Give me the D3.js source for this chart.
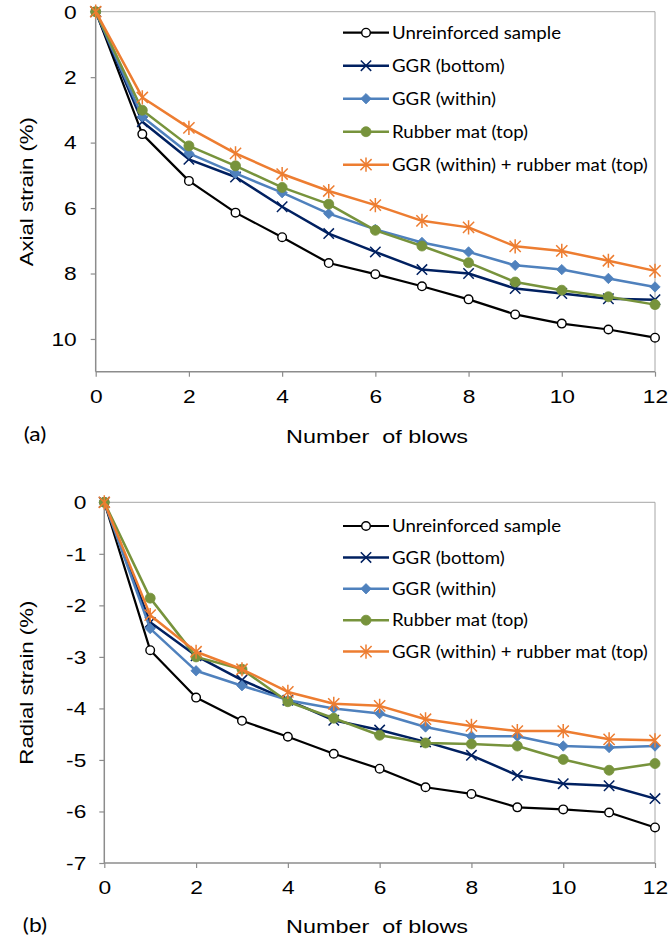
<!DOCTYPE html>
<html>
<head>
<meta charset="utf-8">
<script src="https://cdn.jsdelivr.net/npm/d3@7"></script>
<style>
  html, body { margin: 0; padding: 0; background: #fff; }
  svg { display: block; }
</style>
</head>
<body>
<svg id="chart" width="668" height="940"></svg>
<script>
// Number of blows (shared x values)
const blows = [0, 1, 2, 3, 4, 5, 6, 7, 8, 9, 10, 11, 12];
const blowTicks = [0, 2, 4, 6, 8, 10, 12];

const seriesNames = [
  "Unreinforced sample",
  "GGR (bottom)",
  "GGR (within)",
  "Rubber mat (top)",
  "GGR (within) + rubber mat (top)"
];

// (a) axial strain, %
const axialUnreinforced = [0, 3.74, 5.17, 6.14, 6.89, 7.68, 8.02, 8.39, 8.79, 9.25, 9.53, 9.71, 9.96];
const axialGGRBottom    = [0, 3.36, 4.51, 5.05, 5.96, 6.78, 7.34, 7.88, 8.00, 8.46, 8.61, 8.77, 8.80];
const axialGGRWithin    = [0, 3.21, 4.33, 4.94, 5.53, 6.17, 6.65, 7.05, 7.34, 7.75, 7.88, 8.15, 8.41];
const axialRubberTop    = [0, 3.01, 4.10, 4.71, 5.37, 5.88, 6.68, 7.16, 7.67, 8.26, 8.51, 8.71, 8.95];
const axialCombined     = [0, 2.62, 3.55, 4.33, 4.96, 5.48, 5.91, 6.39, 6.59, 7.17, 7.31, 7.61, 7.92];
const axialTicks = [0, 2, 4, 6, 8, 10];

// (b) radial strain, %
const radialUnreinforced = [0, -2.87, -3.79, -4.24, -4.55, -4.88, -5.17, -5.53, -5.66, -5.92, -5.96, -6.02, -6.31];
const radialGGRBottom    = [0, -2.33, -2.98, -3.45, -3.84, -4.23, -4.42, -4.65, -4.91, -5.30, -5.46, -5.50, -5.75];
const radialGGRWithin    = [0, -2.45, -3.27, -3.56, -3.84, -4.00, -4.10, -4.36, -4.54, -4.54, -4.73, -4.76, -4.73];
const radialRubberTop    = [0, -1.86, -3.00, -3.24, -3.87, -4.19, -4.52, -4.67, -4.69, -4.73, -4.99, -5.20, -5.07];
const radialCombined     = [0, -2.19, -2.90, -3.24, -3.68, -3.91, -3.95, -4.21, -4.34, -4.44, -4.44, -4.60, -4.62];
const radialTicks = [0, -1, -2, -3, -4, -5, -6, -7];

// Series styling
const styles = [
  { color: "#000000", marker: "openCircle", width: 2.2 },
  { color: "#002060", marker: "cross",      width: 2.5 },
  { color: "#4f81bd", marker: "diamond",    width: 2.5 },
  { color: "#77933c", marker: "dot",        width: 2.5 },
  { color: "#ed7d31", marker: "star",       width: 2.5 }
];

const svg = d3.select("#chart");
svg.append("rect").attr("width", 668).attr("height", 940).attr("fill", "#fff");

const AXIS_COLOR = "#8c8c8c";
const BORDER_COLOR = "#a6a6a6";
const TICK_FONT = "'Liberation Sans', Arial, sans-serif";
const LEGEND_FONT = "Lato, 'Open Sans', sans-serif";
const TICK_SIZE = 17.5;   // px
const TICK_STRETCH = 1.3; // horizontal widening of the axis lettering

function drawMarker(g, type, color, x, y) {
  if (type === "openCircle") {
    g.append("circle").attr("cx", x).attr("cy", y).attr("r", 4.3)
      .attr("fill", "#fff").attr("stroke", color).attr("stroke-width", 1.4);
  } else if (type === "dot") {
    g.append("circle").attr("cx", x).attr("cy", y).attr("r", 5)
      .attr("fill", color).attr("stroke", color).attr("stroke-width", 0.8);
  } else if (type === "diamond") {
    const s = 5.2;
    g.append("path")
      .attr("d", `M${x},${y - s}L${x + s},${y}L${x},${y + s}L${x - s},${y}Z`)
      .attr("fill", color).attr("stroke", color).attr("stroke-width", 0.8);
  } else if (type === "cross") {
    const s = 5.2;
    g.append("path")
      .attr("d", `M${x - s},${y - s}L${x + s},${y + s}M${x - s},${y + s}L${x + s},${y - s}`)
      .attr("fill", "none").attr("stroke", color).attr("stroke-width", 1.5);
  } else if (type === "star") {
    const s = 5.6;
    g.append("path")
      .attr("d", `M${x - s},${y - s}L${x + s},${y + s}M${x - s},${y + s}L${x + s},${y - s}M${x},${y - s - 1.5}L${x},${y + s + 1.5}`)
      .attr("fill", "none").attr("stroke", color).attr("stroke-width", 1.5);
  }
}

function drawPanel(opts) {
  const { x, y, series, yTicks, yTitle, tag, legendTop, legendStep, titleY, tagY, yLabelGap } = opts;
  const g = svg.append("g");
  const [x0, x1] = x.range();
  const [yTop, yBot] = y.range();

  // plot area border (top and right)
  g.append("path")
    .attr("d", `M${x0},${yTop}H${x1}V${yBot}`)
    .attr("fill", "none").attr("stroke", BORDER_COLOR).attr("stroke-width", 1);

  const fmt = d => String(d);
  const yAxis = g.append("g").attr("transform", `translate(${x0},0)`)
    .call(d3.axisLeft(y).tickValues(yTicks).tickSize(5).tickFormat(fmt));
  const xAxis = g.append("g").attr("transform", `translate(0,${yBot})`)
    .call(d3.axisBottom(x).tickValues(blowTicks).tickSize(5).tickFormat(fmt));

  [yAxis, xAxis].forEach(a => {
    a.select(".domain").attr("stroke", AXIS_COLOR).attr("stroke-width", 1.5);
    a.selectAll(".tick line").attr("stroke", AXIS_COLOR).attr("stroke-width", 1.2);
    a.selectAll(".tick text").attr("fill", "#000")
      .style("font-family", TICK_FONT).style("font-size", TICK_SIZE + "px");
  });
  yAxis.selectAll(".tick text")
    .attr("x", 0).attr("dy", "0.36em")
    .attr("transform", `translate(${-yLabelGap},0) scale(${TICK_STRETCH},1)`);
  xAxis.selectAll(".tick text")
    .attr("y", 0).attr("dy", "0.36em")
    .attr("transform", `translate(0,25) scale(${TICK_STRETCH},1)`);

  // plain axis lines without end brackets
  yAxis.select(".domain").attr("d", `M0,${yTop}V${yBot}`);
  xAxis.select(".domain").attr("d", `M${x0},0H${x1}`);

  // series: line first, then its markers
  series.forEach((vals, i) => {
    const st = styles[i];
    const pts = blows.map((b, k) => [x(b), y(vals[k])]);
    const sg = g.append("g");
    sg.append("path")
      .attr("d", d3.line()(pts))
      .attr("fill", "none").attr("stroke", st.color)
      .attr("stroke-width", st.width).attr("stroke-linejoin", "round");
    pts.forEach(p => drawMarker(sg, st.marker, st.color, p[0], p[1]));
  });

  // legend
  const lg = g.append("g");
  seriesNames.forEach((name, i) => {
    const st = styles[i];
    const ly = legendTop + i * legendStep;
    lg.append("line").attr("x1", 343).attr("x2", 389).attr("y1", ly).attr("y2", ly)
      .attr("stroke", st.color).attr("stroke-width", st.width);
    drawMarker(lg, st.marker, st.color, 366, ly);
    lg.append("text")
      .attr("transform", `translate(392,${ly}) scale(1.065,1)`)
      .attr("dy", "0.35em")
      .style("font-family", LEGEND_FONT).style("font-size", "17.5px")
      .attr("fill", "#000").text(name);
  });

  // axis titles
  g.append("text")
    .attr("transform", `translate(27,${(yTop + yBot) / 2}) rotate(-90) scale(1.2,1)`)
    .attr("text-anchor", "middle").attr("dy", "0.35em")
    .style("font-family", TICK_FONT).style("font-size", "18.5px")
    .attr("fill", "#000").text(yTitle);
  g.append("text")
    .attr("transform", `translate(377,${titleY}) scale(${TICK_STRETCH},1)`)
    .attr("text-anchor", "middle").attr("dy", "0.35em")
    .style("font-family", TICK_FONT).style("font-size", "18px")
    .style("white-space", "pre")
    .attr("fill", "#000").text("Number  of blows");
  g.append("text")
    .attr("transform", `translate(35,${tagY}) scale(1.2,1)`)
    .attr("text-anchor", "middle").attr("dy", "0.35em")
    .style("font-family", LEGEND_FONT).style("font-size", "19px")
    .attr("fill", "#000").text(tag);
}

// (a) axial strain — y axis runs downward from 0 to 11
drawPanel({
  x: d3.scaleLinear().domain([0, 12]).range([95.7, 655]),
  y: d3.scaleLinear().domain([0, 11]).range([11.7, 371.7]),
  series: [axialUnreinforced, axialGGRBottom, axialGGRWithin, axialRubberTop, axialCombined],
  yTicks: axialTicks,
  yTitle: "Axial strain (%)",
  tag: "(a)",
  legendTop: 32.7,
  legendStep: 33,
  titleY: 437,
  tagY: 434,
  yLabelGap: 19
});

// (b) radial strain — 0 at top, -7 at the bottom
drawPanel({
  x: d3.scaleLinear().domain([0, 12]).range([104.3, 655]),
  y: d3.scaleLinear().domain([0, -7]).range([502.3, 863]),
  series: [radialUnreinforced, radialGGRBottom, radialGGRWithin, radialRubberTop, radialCombined],
  yTicks: radialTicks,
  yTitle: "Radial strain (%)",
  tag: "(b)",
  legendTop: 526,
  legendStep: 31.4,
  titleY: 927,
  tagY: 925,
  yLabelGap: 18
});
</script>
</body>
</html>
